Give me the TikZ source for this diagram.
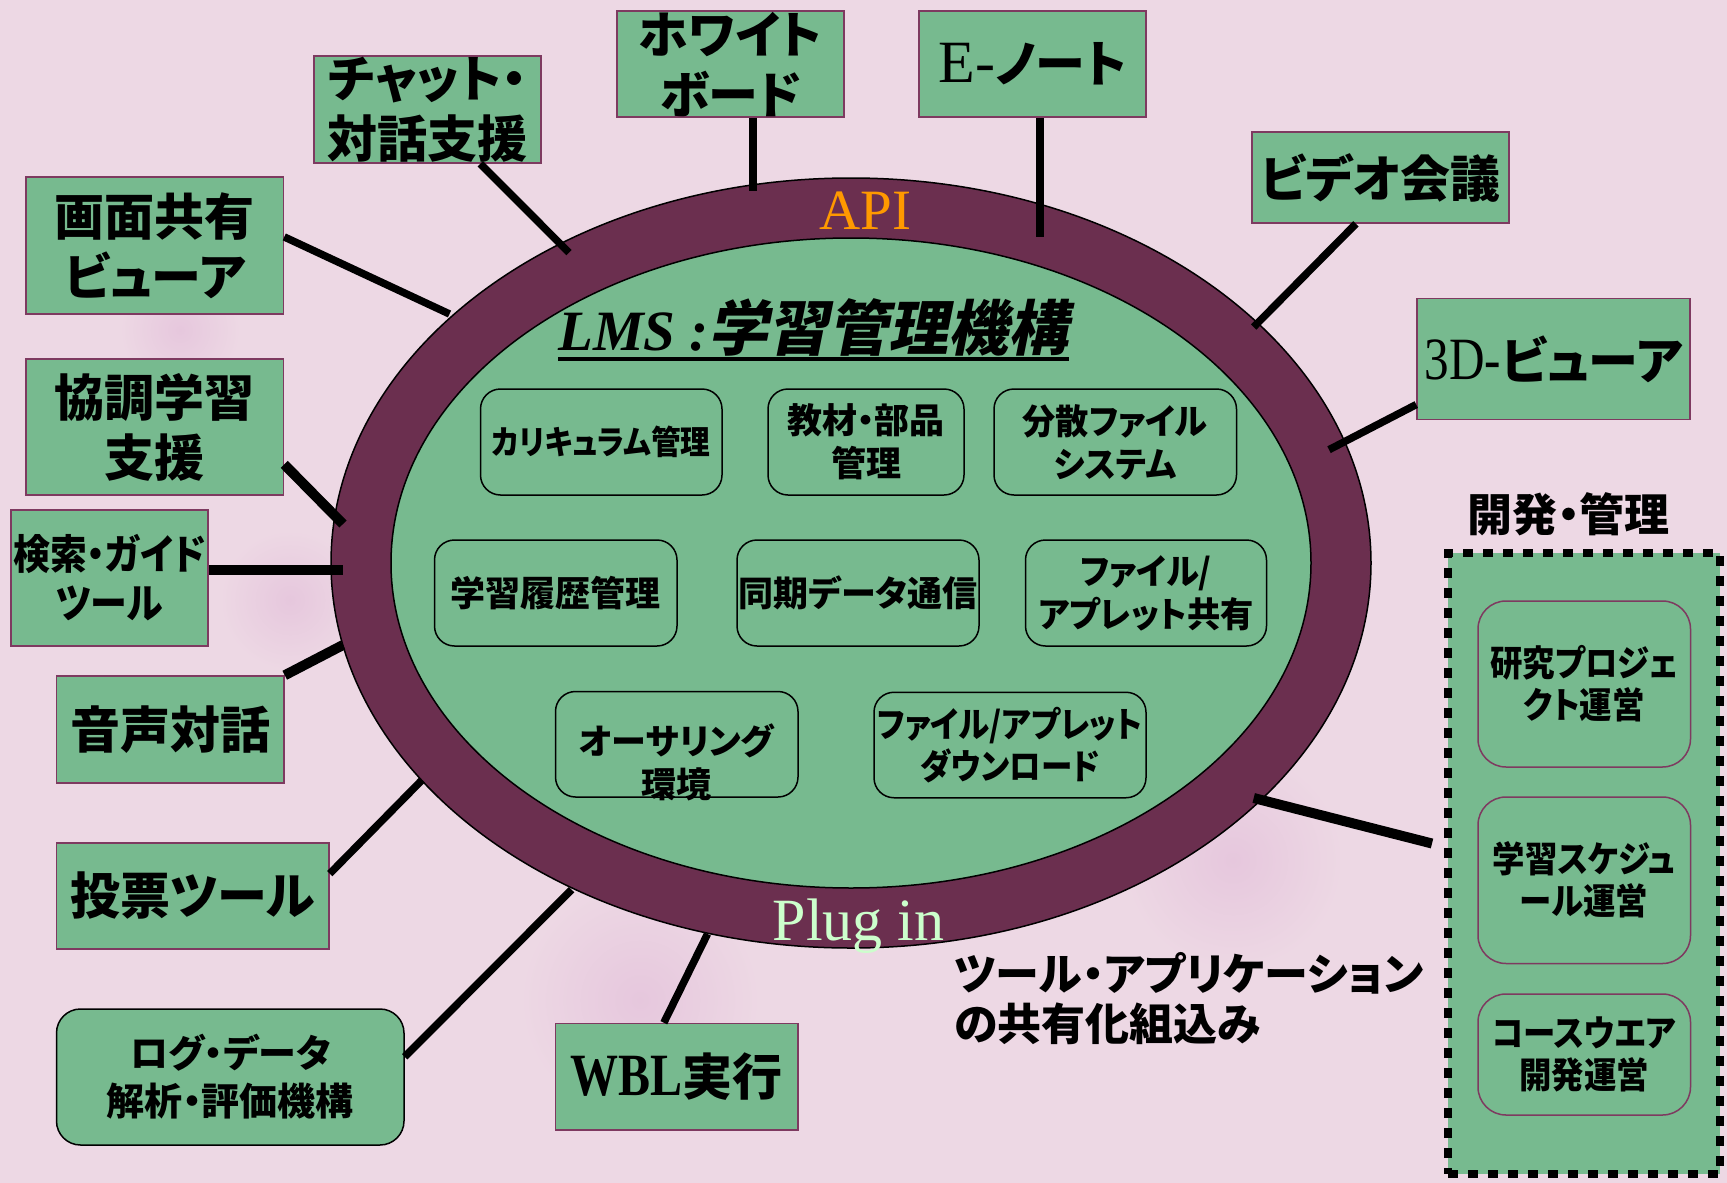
\documentclass[tikz,border=0pt]{standalone}
\usepackage{fontspec}
\setmainfont{Liberation Serif}
\newfontfamily\jp{Noto Sans CJK JP}[RawFeature=+palt]
\newfontfamily\jpc{Noto Sans CJK JP}[RawFeature=+palt,FakeStretch=0.9]
\newfontfamily\jpd{Noto Sans CJK JP}[RawFeature=+palt,FakeStretch=0.95]
\newfontfamily\jpi{Noto Sans CJK JP}[RawFeature=+palt,FakeSlant=0.2]
\usetikzlibrary{calc,shapes.geometric}
\newcommand{\fz}[2]{\fontsize{#1}{#2}\selectfont}
\definecolor{bgpink}{HTML}{EDD8E4}
\definecolor{gr}{HTML}{77BA8F}
\definecolor{ringc}{HTML}{6B2F4F}
\definecolor{bordc}{HTML}{7E3A60}
\definecolor{apic}{HTML}{FF9900}
\definecolor{plugc}{HTML}{CCFFCC}
\definecolor{blob}{HTML}{E6C7DD}
\begin{document}
\begin{tikzpicture}[x=1pt,y=-1pt,
 conn/.style={line width=7.5pt,black},
 connb/.style={line width=10pt,black},
 obox/.style={draw=bordc,line width=1.5pt,fill=gr,inner sep=0pt,align=center,font=\jp\bfseries\fz{50}{60}},
 ibox/.style={draw=black,line width=1.5pt,fill=gr,rounded corners=20pt,inner sep=0pt,align=center,font=\jp\bfseries\fz{35}{43}},
 dbox/.style={draw=bordc,line width=1.5pt,fill=gr,rounded corners=28pt,inner sep=0pt,align=center,font=\jpc\bfseries\fz{36}{42}},
]
\fill[bgpink] (0,0) rectangle (1727,1183);
\useasboundingbox (0,0) rectangle (1727,1183);
% faint background blobs
\shade[inner color=blob,outer color=bgpink] (1233,860) circle [radius=110pt];
\shade[inner color=blob,outer color=bgpink] (640,1000) circle [radius=120pt];
\shade[inner color=blob,outer color=bgpink] (290,600) circle [radius=70pt];
\shade[inner color=blob,outer color=bgpink] (180,330) circle [radius=60pt];

% LMS ring
\node[ellipse,draw=black,line width=1.5pt,fill=ringc,minimum width=1040pt,minimum height=770pt,inner sep=0pt] (ring) at (851,563) {};
\node[ellipse,draw=black,line width=1.5pt,fill=gr,minimum width=920pt,minimum height=650pt,inner sep=0pt] (core) at (851,563) {};

\node[anchor=base,inner sep=0pt,text=apic,font=\fz{57}{60}] (api) at (865.5,229.6) {API};
\node[anchor=base west,inner sep=0pt,text=plugc,font=\fz{60}{60}] (plug) at (772.5,940) {Plug in};
\node[anchor=base west,inner sep=0pt] (title) at (558,350) {\fz{57}{60}\bfseries\itshape LMS :{\jpi\bfseries\fz{60}{60}学習管理機構}};
\draw[line width=3.5pt] ([yshift=-9pt]title.base west) -- ([yshift=-9pt]title.base east);

% inner modules
\node[ibox,minimum width=241.5pt,minimum height=106pt,font=\jpc\bfseries\fz{33}{40}] (curr) at (601.25,442) {カリキュラム管理};
\node[ibox,minimum width=196pt,minimum height=106pt] (mat) at (866,442) {教材・部品\\管理};
\node[ibox,minimum width=242.5pt,minimum height=106pt,font=\jpd\bfseries\fz{35}{43}] (dist) at (1115.25,442) {分散ファイル\\システム};
\node[ibox,minimum width=242.5pt,minimum height=106pt] (hist) at (555.75,593) {学習履歴管理};
\node[ibox,minimum width=242pt,minimum height=106pt] (sync) at (858,593) {同期データ通信};
\node[ibox,minimum width=241pt,minimum height=106pt,font=\jpd\bfseries\fz{35}{43}] (fshare) at (1146,593) {ファイル/\\アプレット共有};
\node[ibox,minimum width=242.5pt,minimum height=105.5pt] (auth) at (676.75,744.25) {};
\node[inner sep=0pt,align=center,font=\jp\bfseries\fz{35}{43}] (authtext) at (676.75,762) {オーサリング\\環境};
\node[ibox,minimum width=272pt,minimum height=105.5pt,font=\jpc\bfseries\fz{35}{42}] (dl) at (1010,745) {ファイル/アプレット\\ダウンロード};

% outer tools
\node[obox,minimum width=227pt,minimum height=107pt] (chat) at (427.5,109.5) {チャット・\\対話支援};
\node[obox,minimum width=227pt,minimum height=106pt] (wb) at (730.5,64) {ホワイト\\ボード};
\node[obox,minimum width=227pt,minimum height=106pt] (en) at (1032.5,64) {{\rmfamily\mdseries\fz{60}{60}E-}ノート};
\node[obox,minimum width=257pt,minimum height=91pt] (vid) at (1380.5,177.5) {ビデオ会議};
\node[obox,minimum width=273pt,minimum height=121pt] (three) at (1553.5,359) {{\rmfamily\mdseries\fz{60}{60}\scalebox{0.82}[1]{3D-}}ビューア};
\node[obox,minimum width=257.5pt,minimum height=137pt] (scr) at (154.75,245.5) {画面共有\\ビューア};
\node[obox,minimum width=257.5pt,minimum height=136pt] (coll) at (154.75,427) {協調学習\\支援};
\node[obox,minimum width=197pt,minimum height=136pt,font=\jpc\bfseries\fz{41}{49}] (srch) at (109.5,578) {検索・ガイド\\ツール};
\node[obox,minimum width=227.5pt,minimum height=107pt] (voice) at (170.25,729.5) {音声対話};
\node[obox,minimum width=272.5pt,minimum height=106pt] (vote) at (192.75,896) {投票ツール};
\node[obox,draw=black,rounded corners=24pt,minimum width=347.5pt,minimum height=136pt,font=\jp\bfseries\fz{38}{48}] (log) at (230.25,1077) {ログ・データ\\解析・評価機構};
\node[obox,minimum width=242.5pt,minimum height=106.5pt] (wbl) at (676.75,1076.75) {{\rmfamily\bfseries\fz{60}{60}\scalebox{0.8}[1]{WBL}}実行};

\node[anchor=north west,align=left,inner sep=0pt,font=\jp\bfseries\fz{44}{50}] (tooltext) at (954,952) {ツール・アプリケーション\\の共有化組込み};

% development / management
\node[draw=black,line width=8pt,dash pattern=on 10pt off 10pt,fill=gr,minimum width=272pt,minimum height=621pt,inner sep=0pt] (devframe) at (1584,863.5) {};
\node[inner sep=0pt,font=\jp\bfseries\fz{45}{50}] (devlabel) at (1568.5,514) {開発・管理};
\node[dbox,minimum width=212.5pt,minimum height=166pt] (proj) at (1584.25,684) {研究プロジェ\\クト運営};
\node[dbox,minimum width=212.5pt,minimum height=166.5pt] (sched) at (1584.25,880.25) {学習スケジュ\\ール運営};
\node[dbox,minimum width=212.5pt,minimum height=121pt] (cw) at (1584.25,1054.5) {コースウエア\\開発運営};

% ring attachment points
\coordinate (rChat) at (569,252.6);
\coordinate (rWB) at (753,191);
\coordinate (rEN) at (1040,237);
\coordinate (rVid) at (1253.7,327);
\coordinate (rThree) at (1329,449.7);
\coordinate (rScr) at (449.5,314);
\coordinate (rColl) at (343,524);
\coordinate (rSrch) at (343,570);
\coordinate (rVoice) at (343,645);
\coordinate (rVote) at (422,780);
\coordinate (rLog) at (571.6,889.6);
\coordinate (rWBL) at (707.5,934);
\coordinate (rDev) at (1253.7,798);
\coordinate (devEnd) at (1432,843.5);

\draw[conn] ($(chat.south west)!0.731!(chat.south east)$) -- (rChat);
\draw[conn] (wb.south -| rWB) -- (rWB);
\draw[conn] (en.south -| rEN) -- (rEN);
\draw[conn] ($(vid.south west)!0.405!(vid.south east)$) -- (rVid);
\draw[conn] ($(three.north west)!0.872!(three.south west)$) -- (rThree);
\draw[conn] ($(scr.north east)!0.438!(scr.south east)$) -- (rScr);
\draw[connb] ($(coll.north east)!0.772!(coll.south east)$) -- (rColl);
\draw[connb] (srch.east |- rSrch) -- (rSrch);
\draw[connb] (voice.north east) -- (rVoice);
\draw[conn] ($(vote.north east)!0.292!(vote.south east)$) -- (rVote);
\draw[conn] ($(log.north east)!0.353!(log.south east)$) -- (rLog);
\draw[conn] ($(wbl.north west)!0.447!(wbl.north east)$) -- (rWBL);
\draw[connb] (rDev) -- (devEnd);
\end{tikzpicture}
\end{document}
